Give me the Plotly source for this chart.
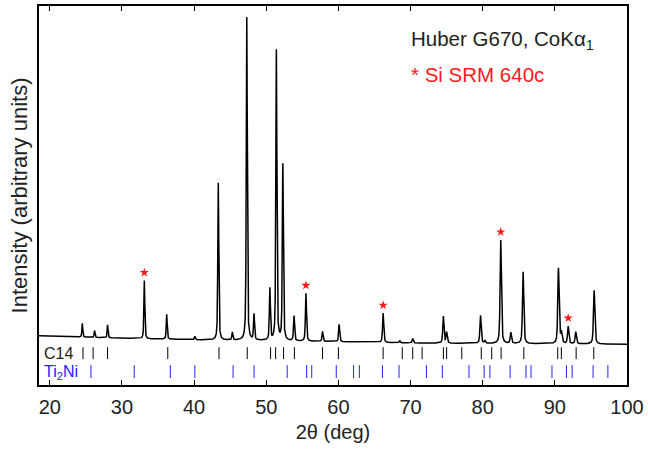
import numpy as np
import plotly.graph_objects as go

# --- data ---
# background anchor points (2theta, intensity a.u.)
bg_tt = [18.5, 20, 30, 40, 50, 60, 70, 80, 100]
bg_int = [49.5, 49.0, 47.0, 45.5, 44.5, 43.5, 42.2, 41.8, 41.0]

# observed reflections: position (deg 2theta) and height above background (a.u.)
peak_pos = [24.5, 26.2, 28.0, 33.1, 36.2, 40.1, 43.35, 45.3, 47.3, 48.3, 50.5, 51.4,
            52.3, 53.85, 55.5, 57.8, 60.1, 66.2, 68.5, 70.3, 74.55, 75.0, 79.7, 80.3,
            82.5, 83.9, 85.6, 90.5, 90.9, 91.85, 92.9, 95.45]
peak_amp = [14, 7, 13, 58.5, 25, 3.5, 158, 8, 325, 26, 52, 292,
            177, 25, 48, 10, 17.5, 29.5, 2, 4.5, 27, 11, 28, 2.5,
            104, 11, 72, 76, 11, 17.5, 12, 54]

# Si SRM 640c reflections (marked with *)
si_pos = [33.1, 55.5, 66.2, 82.5, 91.85]

# reflection markers
c14_pos = [24.6, 26.0, 28.0, 36.35, 43.45, 47.36, 50.6, 51.3, 52.4, 53.9, 57.8, 60.0,
           66.2, 68.85, 70.3, 71.6, 74.55, 75.0, 77.1, 79.8, 81.25, 82.55, 85.7, 90.4,
           90.9, 92.95, 95.4]
ti2ni_pos = [25.7, 31.7, 36.7, 40.1, 45.4, 48.3, 52.9, 55.6, 56.3, 59.7, 62.1, 62.9,
             66.1, 68.4, 72.2, 74.4, 78.1, 80.2, 81.0, 83.8, 86.0, 86.7, 89.6, 91.6,
             92.4, 95.3, 97.35]

x_ticks = [20, 30, 40, 50, 60, 70, 80, 90, 100]

# --- profile built from the reflection list ---
tt = np.round(np.arange(18.5, 100.0001, 0.01), 2)
y = np.interp(tt, bg_tt, bg_int)
eta = 0.55
for p, a in zip(peak_pos, peak_amp):
    fw = 0.13 + 0.0012 * (p - 20)
    hw = fw / 2
    d = tt - p
    lor = 1.0 / (1.0 + (d / hw) ** 2)
    gau = np.exp(-np.log(2) * (d / hw) ** 2)
    y = y + a * (eta * lor + (1 - eta) * gau)

def intensity_at(p):
    return float(np.interp(p, tt, y))

star_y = [intensity_at(p) + 8 for p in si_pos]

def tick_segments(pos, y0, y1):
    xs, ys = [], []
    for p in pos:
        xs += [p, p, None]
        ys += [y0, y1, None]
    return xs, ys

c14_x, c14_y = tick_segments(c14_pos, 26, 38)
ti_x, ti_y = tick_segments(ti2ni_pos, 7, 20)

FONT = "Liberation Sans, Arial, Helvetica, sans-serif"
RED = "#ff1a1a"
BLUE = "#2323ff"

fig = go.Figure()
fig.add_trace(go.Scatter(x=tt, y=y, mode="lines", line=dict(color="black", width=1.5),
                         hoverinfo="skip", showlegend=False))
fig.add_trace(go.Scatter(x=c14_x, y=c14_y, mode="lines", line=dict(color="black", width=1),
                         showlegend=False, hoverinfo="skip"))
fig.add_trace(go.Scatter(x=ti_x, y=ti_y, mode="lines", line=dict(color=BLUE, width=1),
                         showlegend=False, hoverinfo="skip"))
fig.add_trace(go.Scatter(x=si_pos, y=star_y, mode="markers",
                         marker=dict(symbol="star", size=7, color=RED, line=dict(width=0)),
                         showlegend=False, hoverinfo="skip"))

fig.add_annotation(x=18.95, y=32, xref="x", yref="y", text="C14", showarrow=False,
                   xanchor="left", yanchor="middle", font=dict(size=16, color="#222", family=FONT))
fig.add_annotation(x=18.95, y=13, xref="x", yref="y", text="Ti<sub>2</sub>Ni", showarrow=False,
                   xanchor="left", yanchor="middle", font=dict(size=16, color=BLUE, family=FONT))
fig.add_annotation(x=0.630, y=0.911, xref="paper", yref="paper",
                   text="Huber G670, CoKα<sub>1</sub>", showarrow=False,
                   xanchor="left", yanchor="middle", font=dict(size=20.5, color="#222", family=FONT))
fig.add_annotation(x=0.630, y=0.819, xref="paper", yref="paper",
                   text="* Si SRM 640c", showarrow=False,
                   xanchor="left", yanchor="middle", font=dict(size=20.5, color=RED, family=FONT))

fig.update_layout(
    width=648, height=452,
    margin=dict(l=39, r=20, t=4, b=67),
    paper_bgcolor="white", plot_bgcolor="white",
    font=dict(family=FONT, size=20, color="#222"),
    showlegend=False,
)
fig.update_xaxes(range=[18.5, 100], tickvals=x_ticks, ticks="inside", ticklen=5,
                 tickwidth=1, tickcolor="black", showline=True, linecolor="black",
                 linewidth=1.5, mirror="ticks", showgrid=False, zeroline=False,
                 ticklabelstandoff=3, tickfont=dict(size=20),
                 title=dict(text="2θ (deg)", standoff=8, font=dict(size=20)))
fig.update_yaxes(range=[0, 381], showticklabels=False, ticks="", showline=True,
                 linecolor="black", linewidth=1.5, mirror=True, showgrid=False,
                 zeroline=False,
                 title=dict(text="Intensity (arbitrary units)", standoff=4, font=dict(size=22)))

fig.write_html("out.html")
